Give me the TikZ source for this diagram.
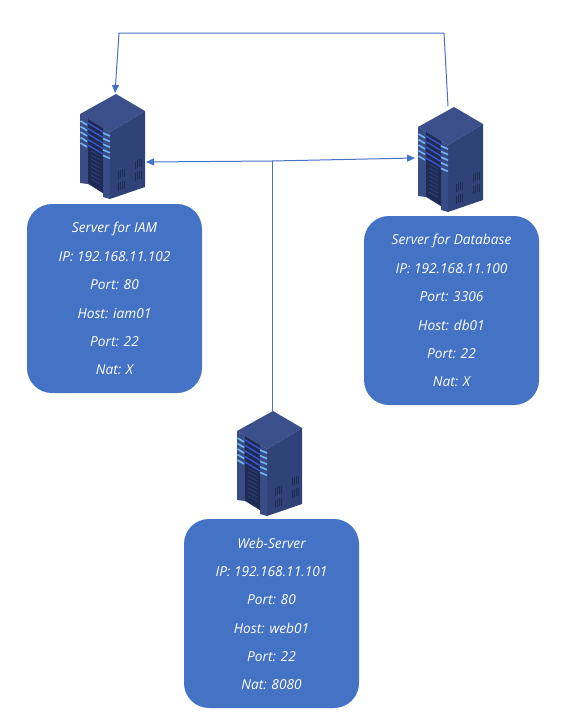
\documentclass[tikz,border=0pt]{standalone}
\usepackage{fontspec}
\setmainfont{Open Sans}
\usetikzlibrary{arrows.meta}
\definecolor{boxblue}{HTML}{4472C4}
\definecolor{topface}{HTML}{3B4F8A}
\definecolor{sideface}{HTML}{2F4378}
\definecolor{frontface}{HTML}{384C86}
\definecolor{slot}{HTML}{1E2B54}
\definecolor{lightbar}{HTML}{6FB2EE}
\definecolor{darkbar}{HTML}{3A55C8}
\tikzset{
  infobox/.style={fill=boxblue,draw=none,rounded corners=25,minimum width=175,minimum height=189,inner sep=0,outer sep=0},
  infotext/.style={text=white,font=\itshape\fontsize{13.7}{15}\selectfont,inner sep=0,anchor=center},
  link/.style={draw=boxblue,line width=1},
  linkarrow/.style={link,-{Triangle[length=8,width=7]}},
  servermark/.pic={
    \fill[topface] (36,0) -- (65,17) -- (30,38) -- (0,20) -- cycle;
    \fill[sideface] (65,17) -- (65,93) -- (30,105) -- (30,38) -- cycle;
    \fill[frontface] (0,20) -- (30,38) -- (30,105) -- (23,103) -- (23,99) -- (8,90) -- (0,89) -- cycle;
    \fill[slot] (8,25) -- (23,34) -- (23,99) -- (8,89) -- cycle;
    \foreach \k in {0,1,2,3,4}{
      \draw[darkbar,line width=1.4] (8,{29+5.5*\k}) -- (23,{38+5.5*\k});
      \draw[lightbar,line width=1.7] (0.5,{27+5.5*\k}) -- (7,{31+5.5*\k});
      \draw[lightbar,line width=1.7] (23,{39+5.6*\k}) -- (30,{42+5.6*\k});
    }
    \foreach \k in {0,1,...,7}{
      \draw[frontface!70!slot,line width=.7] (11,{57+4*\k}) -- (20,{62+4*\k});
    }
    \foreach \a/\b in {38/75,38/87,55/65,55/77}{
      \foreach \s in {0,2,4,6}{
        \draw[slot,line width=.9] (\a+\s,{\b+2-\s*0.4}) -- ++(0,8);
      }
    }
  }
}
\begin{document}
\begin{tikzpicture}[x=1pt,y=-1pt]
\useasboundingbox (0,0) rectangle (573,723);
\fill[white] (0,0) rectangle (573,723);
\pic at (80,94) {servermark};
\pic at (418,107) {servermark};
\pic at (237,411) {servermark};
\coordinate (iamtop) at (115,93);
\coordinate (iameast) at (146,162);
\coordinate (dbtop) at (448,106);
\coordinate (dbwest) at (415,158);
\coordinate (webtop) at (272,411);
\coordinate (junction) at (272,161);
\coordinate (topright) at (444,33);
\coordinate (topleft) at (119,33);
\node[infobox] (iambox) at (114.5,298.5) {};
\node[infobox] (dbbox) at (451.5,310.5) {};
\node[infobox] (webbox) at (271.5,613.5) {};
\foreach \n/\t [count=\i from 0] in {a/Server for IAM,b/IP: 192.168.11.102,c/Port: 80,d/Host: iam01,e/Port: 22,f/Nat: X}
  \node[infotext] (iam\n) at (114.5,{228.5+28.2*\i}) {\t};
\foreach \n/\t [count=\i from 0] in {a/Server for Database,b/IP: 192.168.11.100,c/Port: 3306,d/Host: db01,e/Port: 22,f/Nat: X}
  \node[infotext] (db\n) at (451.5,{240.5+28.2*\i}) {\t};
\foreach \n/\t [count=\i from 0] in {a/Web-Server,b/IP: 192.168.11.101,c/Port: 80,d/Host: web01,e/Port: 22,f/Nat: 8080}
  \node[infotext] (web\n) at (271.5,{543.5+28.2*\i}) {\t};
\draw[linkarrow] (dbtop) -- (topright) -- (topleft) -- (iamtop);
\draw[link] (webtop) -- (junction);
\draw[linkarrow] (junction) -- (iameast);
\draw[linkarrow] (junction) -- (dbwest);
\end{tikzpicture}
\end{document}
